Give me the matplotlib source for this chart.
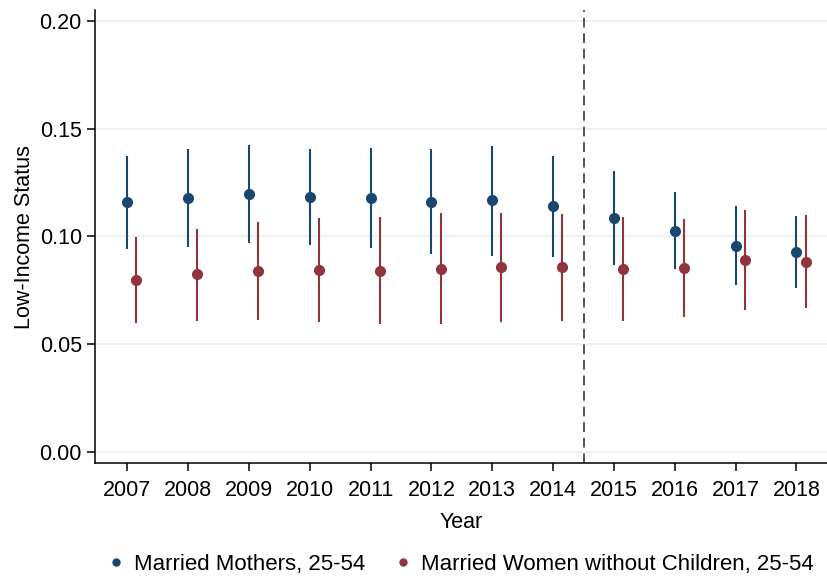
import matplotlib
matplotlib.use("Agg")
import matplotlib.pyplot as plt
import numpy as np

plt.rcParams['font.family'] = ['Liberation Sans', 'DejaVu Sans']

years = [2007, 2008, 2009, 2010, 2011, 2012, 2013, 2014, 2015, 2016, 2017, 2018]

# Married mothers, 25-54
mothers = [0.1159, 0.1180, 0.1197, 0.1185, 0.1179, 0.1162, 0.1168, 0.1140, 0.1087, 0.1027, 0.0956, 0.0927]
mothers_hi = [0.1375, 0.1405, 0.1423, 0.1406, 0.1409, 0.1405, 0.1420, 0.1374, 0.1302, 0.1206, 0.1140, 0.1094]
mothers_lo = [0.0941, 0.0953, 0.0971, 0.0959, 0.0947, 0.0917, 0.0911, 0.0906, 0.0869, 0.0847, 0.0775, 0.0761]

# Married women without children, 25-54
nokids = [0.0798, 0.0824, 0.0840, 0.0845, 0.0841, 0.0851, 0.0858, 0.0858, 0.0849, 0.0854, 0.0891, 0.0880]
nokids_hi = [0.0999, 0.1035, 0.1069, 0.1084, 0.1089, 0.1107, 0.1110, 0.1103, 0.1089, 0.1083, 0.1121, 0.1098]
nokids_lo = [0.0600, 0.0609, 0.0613, 0.0605, 0.0592, 0.0595, 0.0602, 0.0606, 0.0608, 0.0625, 0.0659, 0.0667]

blue = "#1a476f"
red = "#90353b"
fs = 15.5

fig = plt.figure(figsize=(8.27, 5.82), dpi=100)
ax = fig.add_axes([0.1149, 0.2045, 0.885, 0.778])

x = np.array(years, dtype=float)
m = np.array(mothers)
n = np.array(nokids)

ax.errorbar(x, m, yerr=[m - np.array(mothers_lo), np.array(mothers_hi) - m],
            fmt='o', color=blue, ms=7, elinewidth=1.5, capsize=0, zorder=3,
            label="Married Mothers, 25-54")
ax.errorbar(x + 0.15, n, yerr=[n - np.array(nokids_lo), np.array(nokids_hi) - n],
            fmt='o', color=red, ms=7, elinewidth=1.5, capsize=0, zorder=3,
            label="Married Women without Children, 25-54")

ax.axvline(2014.5, color="#555555", lw=1.4, ls=(0, (5, 3)), zorder=2)

ax.set_xlim(2006.47, 2018.5)
ax.set_ylim(-0.0051, 0.205)
ax.set_xticks(years)
ax.set_yticks([0.0, 0.05, 0.10, 0.15, 0.20])
ax.set_yticklabels(["0.00", "0.05", "0.10", "0.15", "0.20"])
ax.yaxis.grid(True, color="#eaeff4", lw=1.2)
ax.set_axisbelow(True)

for s in ["top", "right"]:
    ax.spines[s].set_visible(False)
for s in ["left", "bottom"]:
    ax.spines[s].set_linewidth(1.1)
ax.tick_params(labelsize=fs, width=1.1, length=6)
ax.tick_params(axis='x', pad=6)

ax.set_xlabel("Year", fontsize=fs, labelpad=8)
ax.set_ylabel("Low-Income Status", fontsize=fs, labelpad=3)

handles = [
    plt.Line2D([], [], marker='o', ls='', color=blue, ms=5),
    plt.Line2D([], [], marker='o', ls='', color=red, ms=5),
]
fig.legend(handles, ["Married Mothers, 25-54", "Married Women without Children, 25-54"],
           loc="center", bbox_to_anchor=(0.554, 0.03), ncol=2, frameon=False,
           fontsize=16, handletextpad=0.2, columnspacing=1.1, handlelength=1.2)

fig.savefig("out.png", dpi=100)
